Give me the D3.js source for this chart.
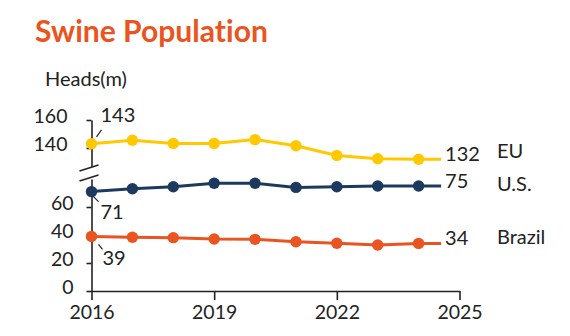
<!DOCTYPE html>
<html>
<head>
<meta charset="utf-8">
<script src="https://cdn.jsdelivr.net/npm/d3@7"></script>
<style>
  html, body { margin: 0; padding: 0; background: #fff; }
  svg { display: block; font-family: Lato, 'Open Sans', sans-serif; font-variant-ligatures: none; }
</style>
</head>
<body>
<svg id="chart" width="570" height="336"></svg>
<script>
// Data
const years   = [2016, 2017, 2018, 2019, 2020, 2021, 2022, 2023, 2024];
const euVals  = [143, 145.5, 143.3, 143.3, 146, 141.6, 134.6, 132.3, 132];
const usVals  = [71, 73, 74.5, 77, 77, 74, 74.5, 75, 75];
const brVals  = [39, 38.4, 38.1, 37.1, 36.9, 35.2, 34.1, 32.9, 34];
const seriesNames = ['EU', 'U.S.', 'Brazil'];
const startLabels = [143, 71, 39];
const endLabels   = [132, 75, 34];
const xTicks      = [2016, 2019, 2022, 2025];
const yTicksHigh  = [140, 160];
const yTicksLow   = [0, 20, 40, 60];
const lineEndYear = 2024.55;   // lines run a little past the last marker

const ORANGE = '#EA5420', YELLOW = '#FFC800', NAVY = '#1C3A5E', INK = '#222';

const svg = d3.select('#chart');

// Title
const title = svg.append('text')
  .attr('x', 35).attr('y', 42)
  .attr('font-weight', 700).attr('font-size', 25)
  .attr('fill', ORANGE)
  .text('Swine Population');
const tw = title.node().getComputedTextLength();
title.attr('font-size', 25 * 233 / tw);

svg.append('text')
  .attr('x', 45).attr('y', 86)
  .attr('font-size', 20).attr('fill', INK)
  .text('Heads(m)');

// Scales — broken y axis, two segments
const x     = d3.scaleLinear().domain([2016, 2025]).range([91.5, 459.5]);
const yLow  = d3.scaleLinear().domain([0, 80]).range([291, 179]);
const yHigh = d3.scaleLinear().domain([127, 160]).range([166.2, 120]);

// Axes
const gx = svg.append('g')
  .attr('transform', `translate(0,${yLow(0)})`)
  .call(d3.axisBottom(x).tickValues(xTicks).tickFormat(d3.format('d'))
    .tickSize(9).tickSizeOuter(0).tickPadding(5));

const gyLow = svg.append('g')
  .attr('transform', `translate(${x(2016)},0)`)
  .call(d3.axisLeft(yLow).tickValues(yTicksLow).tickSize(5).tickSizeOuter(0).tickPadding(13));

const gyHigh = svg.append('g')
  .attr('transform', `translate(${x(2016)},0)`)
  .call(d3.axisLeft(yHigh).tickValues(yTicksHigh).tickSize(5).tickSizeOuter(0).tickPadding(19));

[gx, gyLow, gyHigh].forEach(g => {
  g.attr('font-family', null);
  g.selectAll('path, line').attr('stroke', INK).attr('stroke-width', 1.6);
  g.selectAll('text').attr('font-size', 19.5).attr('fill', INK);
});
gyLow.selectAll('text').attr('dy', '0.15em');
gyHigh.selectAll('text').attr('dy', '0.15em');

// Break marks
const bx = x(2016);
[0, 10].forEach(off => {
  svg.append('line')
    .attr('x1', bx - 12).attr('y1', 171 + off)
    .attr('x2', bx + 7).attr('y2', 165 + off)
    .attr('stroke', INK).attr('stroke-width', 1.6);
});

// Series
const series = [
  { name: seriesNames[0], vals: euVals, y: yHigh, color: YELLOW },
  { name: seriesNames[1], vals: usVals, y: yLow,  color: NAVY },
  { name: seriesNames[2], vals: brVals, y: yLow,  color: ORANGE }
];

const line = d3.line().x(d => x(d[0]));
const nameShift = [-8, -2, -6];

series.forEach((s, i) => {
  const pts = years.map((yr, j) => [yr, s.vals[j]]);
  const linePts = pts.concat([[lineEndYear, s.vals[s.vals.length - 1]]]);
  const g = svg.append('g');
  g.append('path')
    .datum(linePts)
    .attr('d', line.y(d => s.y(d[1])))
    .attr('fill', 'none')
    .attr('stroke', s.color)
    .attr('stroke-width', 3);
  g.selectAll('circle').data(pts).enter().append('circle')
    .attr('cx', d => x(d[0]))
    .attr('cy', d => s.y(d[1]))
    .attr('r', 5.7)
    .attr('fill', s.color);

  // End value and series name
  const ye = s.y(s.vals[s.vals.length - 1]);
  svg.append('text')
    .attr('x', x(lineEndYear) + 4).attr('y', ye - 5)
    .attr('dy', '0.35em')
    .attr('font-size', 20).attr('fill', INK)
    .text(endLabels[i]);
  svg.append('text')
    .attr('x', 497).attr('y', ye + nameShift[i])
    .attr('dy', '0.35em')
    .attr('font-size', 20).attr('fill', INK)
    .text(s.name);
});

// Start annotations with short leaders
const startOffsets = [
  { lx: [5, 10], ly: [-7, -14], tx: 9, ty: -22 },
  { lx: [2, 7],  ly: [5, 10],   tx: 9, ty: 27 },
  { lx: [7, 11], ly: [8, 13],   tx: 11, ty: 29 }
];
series.forEach((s, i) => {
  const px = x(years[0]), py = s.y(s.vals[0]);
  const o = startOffsets[i];
  svg.append('line')
    .attr('x1', px + o.lx[0]).attr('y1', py + o.ly[0])
    .attr('x2', px + o.lx[1]).attr('y2', py + o.ly[1])
    .attr('stroke', INK).attr('stroke-width', 1.2);
  svg.append('text')
    .attr('x', px + o.tx).attr('y', py + o.ty)
    .attr('font-size', 20).attr('fill', INK)
    .text(startLabels[i]);
});
</script>
</body>
</html>
